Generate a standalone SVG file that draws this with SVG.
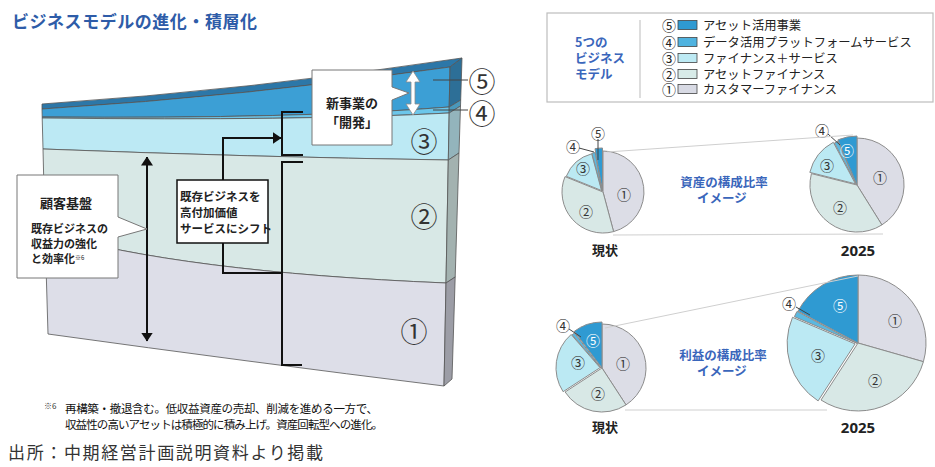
<svg xmlns="http://www.w3.org/2000/svg" width="935" height="467" viewBox="0 0 935 467">
<defs>
<style>
text{font-family:"Noto Sans CJK JP","Noto Sans",sans-serif;}
.ttl{font-size:17px;font-weight:700;fill:#2e5ca8;}
.num{font-size:27px;fill:#333;text-anchor:middle;dominant-baseline:central;}
.cap{font-size:13px;font-weight:700;fill:#222;}
.sm{font-size:11px;font-weight:700;fill:#222;}
.bx{font-size:11.5px;font-weight:700;fill:#222;}
.lg{font-size:12.3px;fill:#222;}
.lgn{font-size:14px;fill:#222;text-anchor:middle;dominant-baseline:central;}
.blu{font-size:12.5px;font-weight:700;fill:#3a66bb;}
.pl{font-size:14px;fill:#333;text-anchor:middle;dominant-baseline:central;}
.plw{font-size:14px;fill:#fff;text-anchor:middle;dominant-baseline:central;}
.yr{font-family:"Noto Sans",sans-serif;font-size:15px;font-weight:700;fill:#222;text-anchor:middle;}
.lay{stroke:#555;stroke-width:0.8;}
.sl{stroke:#8c8c8c;stroke-width:1;}
.s1{fill:#dcdde6;} .s2{fill:#d8e8e6;} .s3{fill:#bbe9f3;} .s4{fill:#5ab8e0;} .s5{fill:#2f9ad2;}
.con{fill:none;stroke:#111;stroke-width:2;}
.lead{fill:none;stroke:#444;stroke-width:1;}
.guide{fill:none;stroke:#cfcfcf;stroke-width:1;}
.call{fill:#fff;stroke:#777;stroke-width:1;}
</style>
<marker id="ah" viewBox="0 0 9 12" refX="8.5" refY="6" markerWidth="9" markerHeight="12" markerUnits="userSpaceOnUse" orient="auto-start-reverse">
<path d="M0,0 L9,6 L0,12 Z" fill="#111"/>
</marker>
</defs>
<rect width="935" height="467" fill="#fff"/>

<text class="ttl" x="12" y="28" textLength="245">ビジネスモデルの進化・積層化</text>

<g id="block">
<path class="lay" d="M42,109 Q250,96 450,67 L462,58 Q250,90 42,104 Z" fill="#2c77a8"/>
<path class="lay" d="M42,109 Q250,96 450,67 L449.2,107 Q300,119 42.2,117 Z" fill="#3c9fd5"/>
<path class="lay" d="M42.2,117 Q300,119 449.2,107 L449.2,113 Q300,121 42.2,118 Z" fill="#6cc6ea"/>
<path class="lay" d="M42.2,118 Q300,121 449.2,113 L448.3,160 Q250,157 43,149 Z" fill="#bce9f4"/>
<path class="lay" d="M43,149 Q250,157 448.3,160 L446,283 Q180,272 45,232 Z" fill="#d8e8e6"/>
<path class="lay" d="M45,232 Q180,272 446,283 L444,386 Q250,362 48,334 Z" fill="#dddee8"/>
<path class="lay" d="M450,67 L462,58 L460.7,100 L449.2,107 Z" fill="#2d6f97"/>
<path class="lay" d="M449.2,107 L460.7,100 L460.5,106 L449.2,113 Z" fill="#4a98bb"/>
<path class="lay" d="M449.2,113 L460.5,106 L459,153 L448.3,160 Z" fill="#93b4bc"/>
<path class="lay" d="M448.3,160 L459,153 L455.2,277 L446,283 Z" fill="#a3b2b0"/>
<path class="lay" d="M446,283 L455.2,277 L452,379 L444,386 Z" fill="#9c9da6"/>
<text class="num" x="424" y="140">③</text>
<text class="num" x="424" y="215">②</text>
<text class="num" x="414" y="330">①</text>
<text class="num" x="482" y="80">⑤</text>
<text class="num" x="482" y="112">④</text>
</g>

<g id="connectors">
<path class="lead" d="M433,80 H468"/>
<path class="lead" d="M433,110 H468"/>
<path class="con" d="M223,180 V138 H281" marker-end="url(#ah)"/>
<path class="con" d="M223,243 V273 H282"/>
<path class="con" d="M303,112 H282 V155 H303"/>
<path class="con" d="M303,162 H282 V365 H302"/>
<path class="con" d="M147,157 V341" marker-start="url(#ah)" marker-end="url(#ah)"/>
<polygon points="413,71 420,82 415,82 415,104 420,104 413,115 406,104 411,104 411,82 406,82" fill="#fff" stroke="#8a8a8a" stroke-width="0.8"/>
</g>

<g id="callout-new">
<path class="call" d="M312,70 H392 V87 L409,93 L392,100 V145 H312 Z"/>
<text class="cap" x="352" y="108" text-anchor="middle">新事業の</text>
<text class="cap" x="352" y="127" text-anchor="middle">「開発」</text>
</g>

<g id="callout-base">
<path class="call" d="M17,175 H118 V217 L147,229 L118,237 V278 H17 Z"/>
<text class="cap" x="66" y="208" text-anchor="middle">顧客基盤</text>
<text class="sm" x="31" y="233">既存ビジネスの</text>
<text class="sm" x="31" y="248">収益力の強化</text>
<text class="sm" x="31" y="263">と効率化<tspan font-size="6" font-weight="400" dy="-3">※6</tspan></text>
</g>

<g id="box-shift">
<rect x="177" y="180" width="91" height="63" fill="#fff" stroke="#111" stroke-width="1.5"/>
<text class="bx" x="180" y="201">既存ビジネスを</text>
<text class="bx" x="180" y="217">高付加価値</text>
<text class="bx" x="180" y="233">サービスにシフト</text>
</g>

<g id="footnote">
<text x="44" y="409" font-size="8" fill="#333">※6</text>
<text x="65" y="413" font-size="11.5" fill="#111" textLength="313">再構築・撤退含む。低収益資産の売却、削減を進める一方で、</text>
<text x="65" y="429" font-size="11.5" fill="#111" textLength="318">収益性の高いアセットは積極的に積み上げ。資産回転型への進化。</text>
<text x="8" y="459" font-size="17" fill="#333" textLength="315">出所：中期経営計画説明資料より掲載</text>
</g>

<g id="legend">
<rect x="547" y="13" width="386" height="89" fill="#fff" stroke="#bdbdbd" stroke-width="1.2"/>
<line x1="640" y1="20" x2="640" y2="98" stroke="#bbb" stroke-width="1"/>
<text class="blu" x="575" y="47">5つの</text>
<text class="blu" x="575" y="63">ビジネス</text>
<text class="blu" x="575" y="79">モデル</text>
<text class="lgn" x="669" y="25">⑤</text>
<rect x="678" y="20.5" width="19" height="9" fill="#2f9ad2" stroke="#444" stroke-width="0.8"/>
<text class="lg" x="703" y="29.5">アセット活用事業</text>
<text class="lgn" x="669" y="42">④</text>
<rect x="678" y="37.5" width="19" height="9" fill="#4fb3e0" stroke="#444" stroke-width="0.8"/>
<text class="lg" x="703" y="46.5">データ活用プラットフォームサービス</text>
<text class="lgn" x="669" y="58">③</text>
<rect x="678" y="53.5" width="19" height="9" fill="#bdeaf4" stroke="#444" stroke-width="0.8"/>
<text class="lg" x="703" y="62.5">ファイナンス＋サービス</text>
<text class="lgn" x="669" y="74">②</text>
<rect x="678" y="69.5" width="19" height="9" fill="#d8ebe8" stroke="#444" stroke-width="0.8"/>
<text class="lg" x="703" y="78.5">アセットファイナンス</text>
<text class="lgn" x="669" y="89">①</text>
<rect x="678" y="84.5" width="19" height="9" fill="#d8dae4" stroke="#444" stroke-width="0.8"/>
<text class="lg" x="703" y="93.5">カスタマーファイナンス</text>
</g>

<g id="pie-asset-now">
<path class="sl s1" d="M603,192 L603,151 A41,41 0 0 1 613.6,231.6 Z"/>
<path class="sl s2" d="M603,192 L613.6,231.6 A41,41 0 0 1 565.0,176.6 Z"/>
<path class="sl s3" d="M601.5,190.5 L566.3,176.3 A38,38 0 0 1 591.7,153.8 Z"/>
<path class="sl s4" d="M602,191 L591.9,153.3 A39,39 0 0 1 595.2,152.6 Z"/>
<path class="sl s5" d="M602.5,191 L595.0,148.7 A43,43 0 0 1 602.5,148 Z"/>
<text class="pl" x="624" y="194">①</text>
<text class="pl" x="586" y="211">②</text>
<text class="pl" x="583" y="168">③</text>
<text class="pl" x="573" y="146">④</text>
<text class="pl" x="598" y="133">⑤</text>
<path class="lead" d="M579,148 L594,152"/>
<path class="lead" d="M598,139 V160"/>
<text class="cap" x="605" y="255" text-anchor="middle">現状</text>
</g>

<g id="pie-asset-2025">
<path class="sl s1" d="M857,185 L857,138 A47,47 0 0 1 881.9,224.9 Z"/>
<path class="sl s2" d="M857,185 L881.9,224.9 A47,47 0 0 1 811.4,173.6 Z"/>
<path class="sl s3" d="M855.4,183.8 L809.8,172.4 A47,47 0 0 1 833.3,142.3 Z"/>
<path class="sl s4" d="M856.5,184.5 L834.4,143.0 A47,47 0 0 1 838.1,141.2 Z"/>
<path class="sl s5" d="M857,185 L837.9,139.9 A49,49 0 0 1 857,136 Z"/>
<text class="pl" x="880" y="177">①</text>
<text class="pl" x="840" y="207">②</text>
<text class="pl" x="827" y="165">③</text>
<text class="plw" x="847" y="150">⑤</text>
<text class="pl" x="822" y="130">④</text>
<path class="lead" d="M828,134 L840,145"/>
<text class="yr" x="858" y="256">2025</text>
</g>

<g id="asset-guides">
<path class="guide" d="M607,152 L853,135"/>
<path class="guide" d="M613,235 L883,234"/>
<text class="blu" x="724" y="187" text-anchor="middle">資産の構成比率</text>
<text class="blu" x="722" y="203" text-anchor="middle">イメージ</text>
</g>

<g id="pie-profit-now">
<path class="sl s1" d="M602,368 L602,324 A44,44 0 0 1 626.0,404.9 Z"/>
<path class="sl s2" d="M602,368 L626.0,404.9 A44,44 0 0 1 565.1,392.0 Z"/>
<path class="sl s3" d="M600,367.7 L563.1,391.7 A44,44 0 0 1 571.1,334.5 Z"/>
<path class="sl s4" d="M601,368 L572.1,334.8 A44,44 0 0 1 574.5,332.9 Z"/>
<path class="sl s5" d="M602,368 L574.3,331.3 A46,46 0 0 1 602,322 Z"/>
<text class="pl" x="623" y="363">①</text>
<text class="pl" x="598" y="393">②</text>
<text class="pl" x="578" y="362">③</text>
<text class="plw" x="593" y="340">⑤</text>
<text class="pl" x="563" y="325">④</text>
<path class="lead" d="M569,329 L581,337"/>
<text class="cap" x="605" y="432" text-anchor="middle">現状</text>
</g>

<g id="pie-profit-2025">
<path class="sl s1" d="M858,343 L858,275 A68,68 0 0 1 923.4,361.7 Z"/>
<path class="sl s2" d="M858,343 L923.4,361.7 A68,68 0 0 1 821.0,400.0 Z"/>
<path class="sl s3" d="M855.1,343.9 L818.1,400.9 A68,68 0 0 1 792.5,317.3 Z"/>
<path class="sl s4" d="M857,343.3 L794.4,316.7 A68,68 0 0 1 797.0,311.4 Z"/>
<path class="sl s5" d="M858,343 L798.0,311.1 A68,68 0 0 1 858,275 Z"/>
<text class="pl" x="895" y="320">①</text>
<text class="pl" x="875" y="380">②</text>
<text class="pl" x="818" y="355">③</text>
<text class="plw" x="840" y="305">⑤</text>
<text class="pl" x="789" y="303">④</text>
<path class="lead" d="M796,307 L810,315"/>
<text class="yr" x="858" y="433">2025</text>
</g>

<g id="profit-guides">
<path class="guide" d="M605,328 L858,276"/>
<path class="guide" d="M625,410 L827,410"/>
<text class="blu" x="723" y="360" text-anchor="middle">利益の構成比率</text>
<text class="blu" x="722" y="376" text-anchor="middle">イメージ</text>
</g>
</svg>
